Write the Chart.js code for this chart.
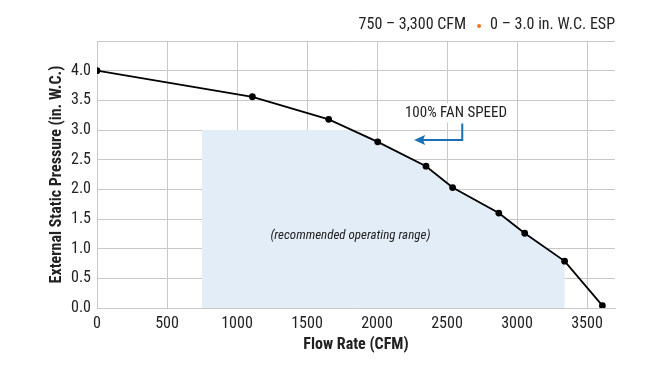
<!DOCTYPE html>
<html><head><meta charset="utf-8">
<script src="https://cdn.jsdelivr.net/npm/chart.js@4/dist/chart.umd.min.js"></script>
<style>html,body{margin:0;padding:0;background:#fff}#wrap{width:665px;height:380px}</style>
</head><body><div id="wrap"><canvas id="c" width="665" height="380"></canvas></div>
<script>
const flowRate = [0, 1110, 1655, 2005, 2350, 2540, 2870, 3055, 3340, 3610];
const pressure = [4.0, 3.56, 3.18, 2.80, 2.39, 2.03, 1.60, 1.26, 0.79, 0.04];
const xTicks = [0, 500, 1000, 1500, 2000, 2500, 3000, 3500];
const yTicks = [0, 0.5, 1.0, 1.5, 2.0, 2.5, 3.0, 3.5, 4.0, 4.5];
const rangeCFM = [750, 3340];
const rangeMaxESP = 3.0;
const headerLeft = '750 – 3,300 CFM';
const headerRight = '0 – 3.0 in. W.C. ESP';
const rangeLabel = '(recommended operating range)';
const fanLabel = '100% FAN SPEED';

const FONT = "'Liberation Sans Narrow','Arial Narrow','Roboto Condensed',Roboto,'Liberation Sans',sans-serif";

const shadePlugin = {
  id: 'shade',
  beforeDatasetsDraw(chart) {
    const {ctx, scales: {x, y}} = chart;
    ctx.save();
    ctx.beginPath();
    ctx.moveTo(x.getPixelForValue(flowRate[0]), y.getPixelForValue(pressure[0]));
    for (let i = 1; i < flowRate.length; i++) ctx.lineTo(x.getPixelForValue(flowRate[i]), y.getPixelForValue(pressure[i]));
    ctx.lineTo(x.getPixelForValue(flowRate[flowRate.length-1]), y.getPixelForValue(0));
    ctx.lineTo(x.getPixelForValue(flowRate[0]), y.getPixelForValue(0));
    ctx.closePath();
    ctx.clip();
    const x0 = x.getPixelForValue(rangeCFM[0]), x1 = x.getPixelForValue(rangeCFM[1]);
    const y0 = y.getPixelForValue(rangeMaxESP), y1 = y.getPixelForValue(0);
    ctx.fillStyle = '#e3edf7';
    ctx.fillRect(x0, y0, x1 - x0, y1 - y0);
    ctx.restore();
  },
  afterDatasetsDraw(chart) {
    const {ctx, scales: {x, y}} = chart;
    ctx.save();
    ctx.fillStyle = '#222';
    ctx.font = "italic 13px " + FONT;
    ctx.textAlign = 'center';
    ctx.textBaseline = 'middle';
    ctx.fillText(rangeLabel, x.getPixelForValue(1810), y.getPixelForValue(1.21));
    ctx.font = "15px " + FONT;
    const tx = x.getPixelForValue(2564), ty = y.getPixelForValue(3.28);
    const w = ctx.measureText(fanLabel).width;
    ctx.fillStyle = '#fff';
    ctx.fillRect(tx - w/2 - 2, ty - 10, w + 4, 19);
    ctx.fillStyle = '#222';
    ctx.fillText(fanLabel, tx, ty);
    const ax = x.getPixelForValue(2609), ay0 = y.getPixelForValue(3.11), ay1 = y.getPixelForValue(2.83);
    const tip = x.getPixelForValue(2265);
    ctx.strokeStyle = '#1a6fb5';
    ctx.fillStyle = '#1a6fb5';
    ctx.lineWidth = 2;
    ctx.beginPath();
    ctx.moveTo(ax, ay0); ctx.lineTo(ax, ay1); ctx.lineTo(tip + 8, ay1);
    ctx.stroke();
    ctx.beginPath();
    ctx.moveTo(tip, ay1); ctx.lineTo(tip + 11, ay1 - 5); ctx.lineTo(tip + 9, ay1); ctx.lineTo(tip + 11, ay1 + 5);
    ctx.closePath(); ctx.fill();
    ctx.restore();
  },
  afterDraw(chart) {
    const {ctx, chartArea} = chart;
    ctx.save();
    ctx.font = "16px " + FONT;
    ctx.fillStyle = '#222';
    ctx.textBaseline = 'middle';
    ctx.textAlign = 'right';
    const right = chartArea.right;
    const yy = 25;
    const w2 = ctx.measureText(headerRight).width;
    ctx.fillText(headerRight, right, yy);
    const dotX = right - w2 - 11;
    ctx.fillStyle = '#e87722';
    ctx.beginPath(); ctx.arc(dotX, yy + 1, 2, 0, Math.PI*2); ctx.fill();
    ctx.fillStyle = '#222';
    ctx.fillText(headerLeft, dotX - 13, yy);
    ctx.restore();
  }
};

new Chart(document.getElementById('c'), {
  type: 'scatter',
  data: {
    datasets: [{
      data: flowRate.map((v, i) => ({x: v, y: pressure[i]})),
      showLine: true,
      borderColor: '#000',
      backgroundColor: '#000',
      borderWidth: 1.8,
      pointRadius: 2.5,
      pointHoverRadius: 2.5,
      tension: 0
    }]
  },
  options: {
    responsive: false,
    animation: false,
    events: [],
    layout: {padding: {top: 41, right: 50, left: 0, bottom: 0}},
    plugins: {legend: {display: false}, tooltip: {enabled: false}},
    scales: {
      x: {
        type: 'linear', min: 0, max: 3700,
        afterBuildTicks: s => { s.ticks = xTicks.map(v => ({value: v})); },
        afterFit: s => { s.height = 72; },
        grid: {color: '#c8c8c8', drawTicks: false, lineWidth: 1},
        border: {color: '#c8c8c8'},
        ticks: {color: '#222', padding: 6, maxRotation: 0, font: {family: FONT, size: 16}, callback: v => String(v)},
        title: {display: true, text: 'Flow Rate (CFM)', color: '#222', font: {family: FONT, size: 16, weight: 'bold'}, padding: {top: 0, bottom: 25}}
      },
      y: {
        type: 'linear', min: 0, max: 4.5,
        afterBuildTicks: s => { s.ticks = yTicks.map(v => ({value: v})); },
        afterFit: s => { s.width = 97; },
        grid: {color: '#c8c8c8', drawTicks: false, lineWidth: 1},
        border: {color: '#c8c8c8'},
        ticks: {color: '#222', padding: 6, font: {family: FONT, size: 16}, callback: v => v > 4.2 ? '' : v.toFixed(1)},
        title: {display: true, text: 'External Static Pressure (in. W.C.)', color: '#222', font: {family: FONT, size: 16, weight: 'bold'}, padding: {top: 47, bottom: 0}}
      }
    }
  },
  plugins: [shadePlugin]
});
</script></body></html>
